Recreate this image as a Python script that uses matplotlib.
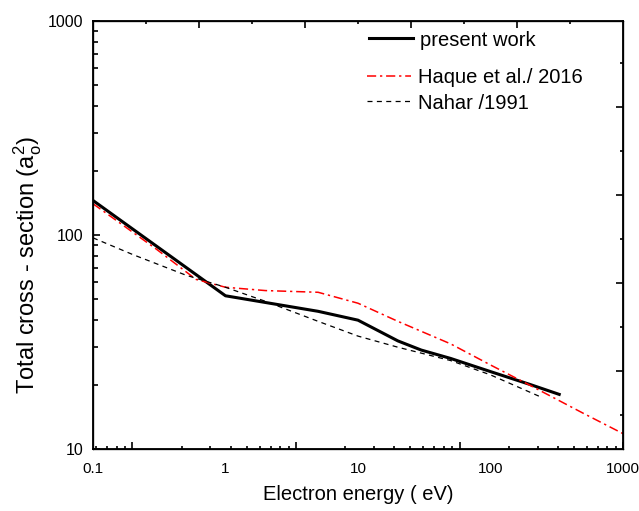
import numpy as np
import matplotlib.pyplot as plt
from matplotlib.ticker import LogLocator, NullFormatter, NullLocator

plt.rcParams['font.family'] = ['Liberation Sans', 'DejaVu Sans']
plt.rcParams['mathtext.fontset'] = 'custom'
plt.rcParams['mathtext.rm'] = 'Liberation Sans'

# present work
E_present = [0.1, 1, 5, 10, 20, 30, 50, 100, 200, 330]
Q_present = [145, 52, 44, 40, 32, 29, 26.5, 23, 20, 18]

# Haque et al. 2016
E_haque = [0.1, 0.3, 0.6, 1, 2, 5, 10, 20, 50, 100, 200, 500, 1000]
Q_haque = [140, 86, 62, 57, 55, 54, 48, 39.5, 31, 24.7, 19.8, 14.7, 11.8]

# Nahar 1991
E_nahar = [0.1, 0.2, 0.5, 1, 2, 5, 10, 20, 50, 100, 245]
Q_nahar = [97, 81, 65, 57, 49, 39.5, 33.7, 29.9, 25.9, 22.2, 17.4]

fig = plt.figure(figsize=(6.39, 5.11), dpi=100)
ax = fig.add_axes([0.1455, 0.1213, 0.8295, 0.8376])

l1, = ax.plot(E_present, Q_present, color='black', lw=2.2, label='present work')
l2, = ax.plot(E_haque, Q_haque, color='red', lw=1.1, dashes=(6, 2.5, 1.5, 2.5),
              label='Haque et al./ 2016')
l3, = ax.plot(E_nahar, Q_nahar, color='black', lw=0.9, dashes=(4, 3.5),
              label='Nahar /1991')

ax.set_xscale('log')
ax.set_yscale('log')
ax.set_xlim(0.1, 1000)
ax.set_ylim(10, 1000)

ax.set_xticks([0.1, 1, 10, 100, 1000], labels=['0.1', '1', '10', '100', '1000'])
ax.xaxis.set_minor_locator(NullLocator())
ax.tick_params(axis='x', which='both', length=0, pad=9, labelsize=11)

ax.set_yticks([10, 100, 1000], labels=['10', '100', '1000'])
ax.yaxis.set_minor_locator(LogLocator(base=10, subs=np.arange(2, 10)))
ax.yaxis.set_minor_formatter(NullFormatter())
ax.tick_params(axis='y', which='major', direction='in', length=5, width=1.2,
               labelsize=11.5, pad=7, right=False)
ax.tick_params(axis='y', which='minor', direction='in', length=3.5, width=1.2, right=False)

for s in ax.spines.values():
    s.set_linewidth(1.3)

# bottom tick marks (origin style, own log spacing)
axb = ax.twiny()
axb.set_xscale('log')
axb.set_xlim(10 ** (3 - 530 / 163.5), 1000)
axb.xaxis.set_ticks_position('bottom')
axb.set_xticks([1, 10, 100, 1000])
axb.xaxis.set_minor_locator(LogLocator(base=10, subs=np.arange(2, 10)))
axb.xaxis.set_major_formatter(NullFormatter())
axb.xaxis.set_minor_formatter(NullFormatter())
axb.tick_params(axis='x', which='major', direction='in', length=5, width=1.2)
axb.tick_params(axis='x', which='minor', direction='in', length=2.5, width=1.2)

# top tick marks
axt = ax.twiny()
axt.set_xlim(0, 10)
axt.xaxis.set_ticks_position('top')
axt.set_xticks([2, 4, 6, 8], labels=[])
axt.set_xticks([1, 3, 5, 7, 9], minor=True)
axt.tick_params(axis='x', which='major', direction='in', length=5, width=1.2)
axt.tick_params(axis='x', which='minor', direction='in', length=2.5, width=1.2)

# right tick marks
axr = ax.twinx()
axr.set_ylim(0, 1)
rpos = 0.08 + 0.1027 * np.arange(9)
axr.set_yticks(rpos[1::2], labels=[])
axr.set_yticks(rpos[0::2], minor=True)
axr.tick_params(axis='y', which='major', direction='in', length=5, width=1.2)
axr.tick_params(axis='y', which='minor', direction='in', length=2.5, width=1.2)

ax.set_xlabel('Electron energy ( eV)', fontsize=14.5, labelpad=7)
ax.set_ylabel(r'Total cross - section (a$_\mathregular{o}^\mathregular{2}$)', fontsize=17)
ax.yaxis.set_label_coords(-0.093, 0.43)

leg1 = ax.legend(handles=[l1], loc='center left', bbox_to_anchor=(0.521, 0.9556),
                 frameon=False, fontsize=14.5, handlelength=2.2, handletextpad=0.35,
                 borderpad=0, borderaxespad=0)
ax.add_artist(leg1)
ax.legend(handles=[l2, l3], loc='center left', bbox_to_anchor=(0.517, 0.8376),
          frameon=False, fontsize=14.5, handlelength=2.2, handletextpad=0.35,
          borderpad=0, borderaxespad=0, labelspacing=0.3)

fig.savefig('out.png', dpi=100)
